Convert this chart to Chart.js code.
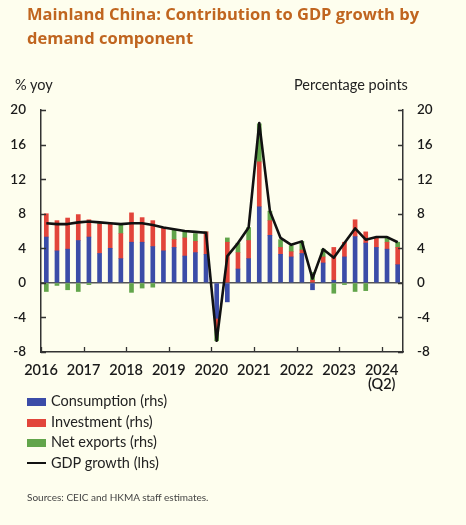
<!DOCTYPE html>
<html>
<head>
<meta charset="utf-8">
<script src="https://cdn.jsdelivr.net/npm/chart.js@4"></script>
<style>
  html, body { margin: 0; padding: 0; background: #fefeee; }
  #wrap { position: relative; width: 466px; height: 525px; overflow: hidden; font-family: Lato, "Liberation Sans", sans-serif; color: #222; }
  #c { position: absolute; left: 0; top: 0; }
  .title { position: absolute; left: 27px; top: 2px; font-family: "Open Sans", Lato, sans-serif; font-weight: bold; font-size: 16.5px; line-height: 24px; color: #c0651f; }
  .unit { position: absolute; top: 76px; font-size: 14.5px; }
  .legend { position: absolute; left: 27px; top: 391px; font-size: 14.5px; }
  .legend div { height: 20.7px; line-height: 20.7px; }
  .legend span { display: inline-block; width: 19px; height: 8px; margin-right: 5px; vertical-align: 0px; }
  .src { position: absolute; left: 27px; top: 491px; font-size: 10px; color: #444; }
</style>
</head>
<body>
<div id="wrap">
  <canvas id="c" width="466" height="525"></canvas>
  <div class="title">Mainland China: Contribution to GDP growth by<br>demand component</div>
  <div class="unit" style="left:15px">% yoy</div>
  <div class="unit" style="left:294px">Percentage points</div>
  <div class="legend">
    <div><span style="background:#3b4ca8"></span>Consumption (rhs)</div>
    <div><span style="background:#e2453b"></span>Investment (rhs)</div>
    <div><span style="background:#62a54b"></span>Net exports (rhs)</div>
    <div><span style="background:#111;height:2.5px;vertical-align:4px"></span>GDP growth (lhs)</div>
  </div>
  <div class="src">Sources: CEIC and HKMA staff estimates.</div>
</div>
<script>
// Quarterly data, 2016 Q1 - 2024 Q2
const quarters = [
  "2016Q1","2016Q2","2016Q3","2016Q4","2017Q1","2017Q2","2017Q3","2017Q4",
  "2018Q1","2018Q2","2018Q3","2018Q4","2019Q1","2019Q2","2019Q3","2019Q4",
  "2020Q1","2020Q2","2020Q3","2020Q4","2021Q1","2021Q2","2021Q3","2021Q4",
  "2022Q1","2022Q2","2022Q3","2022Q4","2023Q1","2023Q2","2023Q3","2023Q4",
  "2024Q1","2024Q2"
];
const consumption = [5.3, 3.7, 3.9, 4.9, 5.3, 3.4, 4.0, 2.8, 4.7, 4.7, 4.2, 3.7, 4.1, 3.1, 3.5, 3.3,
  -4.1, -2.2, 1.6, 2.8, 8.8, 5.5, 3.3, 3.0, 3.4, -0.8, 2.3, 0.3, 3.0, 5.35, 4.6, 4.1, 3.9, 2.1];
const investment = [2.7, 3.5, 3.6, 3.0, 2.0, 3.4, 2.8, 2.9, 3.4, 2.85, 3.0, 2.7, 0.9, 2.1, 1.3, 2.6,
  -1.3, 4.7, 1.9, 2.1, 5.2, 1.7, 0.8, 0.6, 0.4, 0.3, 0.7, 3.8, 1.7, 1.95, 1.3, 1.1, 0.8, 2.0];
const netExports = [-1.0, -0.3, -0.8, -1.0, -0.2, 0.2, 0.1, 1.1, -1.1, -0.6, -0.5, 0.0, 1.1, 0.7, 0.9, 0.0,
  -1.3, 0.5, 1.1, 1.5, 4.4, 1.1, 0.9, 0.7, 1.0, 0.9, 0.9, -1.2, -0.2, -1.0, -0.9, 0.0, 0.6, 0.6];
const gdpGrowth = [6.9, 6.8, 6.8, 7.0, 7.1, 7.0, 6.9, 6.8, 6.9, 6.9, 6.7, 6.4, 6.2, 6.0, 5.9, 5.8,
  -6.7, 3.1, 4.6, 6.4, 18.5, 8.3, 5.2, 4.4, 4.8, 0.5, 3.9, 2.9, 4.6, 6.3, 5.0, 5.3, 5.3, 4.7];
const yearLabels = ["2016", "2017", "2018", "2019", "2020", "2021", "2022", "2023", ["2024", "(Q2)"]];
const axisTicks = [-8, -4, 0, 4, 8, 12, 16, 20];

const tickFont = { family: "Lato, 'Liberation Sans', sans-serif", size: 13.5, weight: "600" };

// small inward tick marks on all three axes
const innerTicks = {
  id: "innerTicks",
  afterDatasetsDraw(chart) {
    const { ctx, chartArea: a, scales } = chart;
    ctx.save();
    ctx.strokeStyle = "#333";
    ctx.lineWidth = 1.3;
    ctx.beginPath();
    scales.y.ticks.forEach(t => {
      const py = Math.round(scales.y.getPixelForValue(t.value)) + 0.5;
      ctx.moveTo(a.left, py); ctx.lineTo(a.left + 5, py);
    });
    scales.y2.ticks.forEach(t => {
      const py = Math.round(scales.y2.getPixelForValue(t.value)) + 0.5;
      ctx.moveTo(a.right, py); ctx.lineTo(a.right - 5, py);
    });
    scales.xt.ticks.forEach(t => {
      const px = Math.round(scales.xt.getPixelForValue(t.value)) + 0.5;
      ctx.moveTo(px, a.bottom); ctx.lineTo(px, a.bottom - 5);
    });
    ctx.stroke();
    ctx.restore();
  }
};

const chart = new Chart(document.getElementById("c"), {
  type: "bar",
  data: {
    labels: quarters,
    datasets: [
      { type: "line", label: "GDP growth (lhs)", data: gdpGrowth, yAxisID: "y", xAxisID: "x",
        borderColor: "#111", borderWidth: 2.6, borderJoinStyle: "round", pointRadius: 0, tension: 0, order: 0 },
      { label: "Consumption (rhs)", data: consumption, backgroundColor: "#3b4ca8", yAxisID: "y2", xAxisID: "x", barThickness: 4, order: 1 },
      { label: "Investment (rhs)", data: investment, backgroundColor: "#e2453b", yAxisID: "y2", xAxisID: "x", barThickness: 4, order: 1 },
      { label: "Net exports (rhs)", data: netExports, backgroundColor: "#62a54b", yAxisID: "y2", xAxisID: "x", barThickness: 4, order: 1 }
    ]
  },
  options: {
    responsive: false,
    animation: false,
    layout: { padding: { top: 110, left: 0, right: 0, bottom: 0 } },
    plugins: { legend: { display: false }, tooltip: { enabled: false } },
    scales: {
      x: { display: false, stacked: true, offset: true },
      xt: {
        type: "linear", position: "bottom", min: 0, max: quarters.length, offset: false,
        afterBuildTicks: s => { s.ticks = yearLabels.map((_, i) => ({ value: i * 4 })); },
        afterFit: s => { s.height = 173; },
        grid: { display: false, drawTicks: false, offset: false },
        border: { display: true, color: "#333", width: 1.5 },
        ticks: { color: "#1a1a1a", font: { ...tickFont, size: 14.5, lineHeight: 1.0 }, padding: 11, maxRotation: 0,
          autoSkip: false, callback: (v, i) => yearLabels[i] }
      },
      y: {
        position: "left", min: -8, max: 20,
        afterBuildTicks: s => { s.ticks = axisTicks.map(v => ({ value: v })); },
        afterFit: s => { s.width = 41; },
        grid: { display: false, drawTicks: false },
        border: { display: true, color: "#333", width: 1.5 },
        ticks: { color: "#1a1a1a", font: tickFont, padding: 15 }
      },
      y2: {
        position: "right", min: -8, max: 20, stacked: true,
        afterBuildTicks: s => { s.ticks = axisTicks.map(v => ({ value: v })); },
        afterFit: s => { s.width = 63; },
        grid: { drawTicks: false, lineWidth: 1.5, color: c => (c.tick && c.tick.value === 0 ? "#555" : "rgba(0,0,0,0)") },
        border: { display: true, color: "#333", width: 1.5 },
        ticks: { color: "#1a1a1a", font: tickFont, padding: 14 }
      }
    }
  },
  plugins: [innerTicks]
});
</script>
</body>
</html>
